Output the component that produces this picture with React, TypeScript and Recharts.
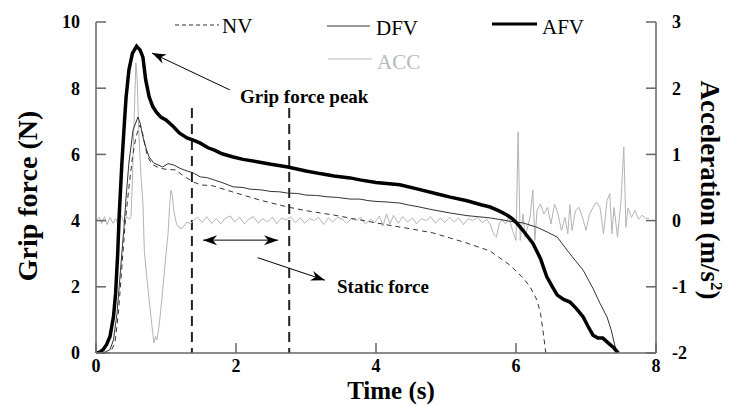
import { CartesianGrid, Line, LineChart, ReferenceLine, XAxis, YAxis } from "recharts";

// [time (s), force (N)]
const NV: [number, number][] = [
  [0, 0], [0.2, 0], [0.27, 0.3], [0.32, 1.2], [0.37, 2.6], [0.42, 4.0], [0.47, 5.0],
  [0.52, 5.9], [0.57, 6.53], [0.63, 6.89], [0.67, 6.6], [0.7, 6.25], [0.74, 5.92],
  [0.8, 5.7], [0.9, 5.59], [1.0, 5.55], [1.14, 5.53], [1.25, 5.35], [1.39, 5.17],
  [1.49, 5.08], [1.67, 5.05], [1.96, 4.86], [2.34, 4.62], [2.74, 4.41], [3.0, 4.3],
  [3.39, 4.17], [3.77, 4.02], [4.16, 3.87], [4.5, 3.75], [4.81, 3.63], [5.05, 3.48],
  [5.3, 3.32], [5.63, 3.08], [5.77, 2.87], [5.91, 2.66], [6.1, 2.27], [6.2, 2.0],
  [6.3, 1.6], [6.35, 1.2], [6.39, 0.6], [6.42, 0.09], [6.43, 0],
];

const DFV: [number, number][] = [
  [0, 0], [0.1, 0], [0.2, 0.1], [0.25, 0.4], [0.3, 1.2], [0.35, 2.5], [0.4, 3.8],
  [0.43, 4.71], [0.47, 5.74], [0.53, 6.74], [0.6, 7.13], [0.63, 6.95], [0.67, 6.53],
  [0.72, 6.15], [0.76, 5.92], [0.82, 5.75], [0.89, 5.68], [0.95, 5.62], [1.03, 5.72],
  [1.11, 5.68], [1.2, 5.58], [1.3, 5.5], [1.39, 5.44], [1.49, 5.32], [1.58, 5.3],
  [1.67, 5.24], [1.8, 5.15], [1.96, 5.02], [2.1, 5.0], [2.2, 4.95], [2.35, 4.93],
  [2.5, 4.88], [2.62, 4.87], [2.74, 4.83], [2.88, 4.82], [3.0, 4.77], [3.15, 4.76],
  [3.3, 4.72], [3.45, 4.7], [3.63, 4.65], [3.77, 4.65], [3.9, 4.6], [4.0, 4.58],
  [4.17, 4.56], [4.34, 4.53], [4.47, 4.47], [4.6, 4.42], [4.8, 4.33], [5.06, 4.23],
  [5.3, 4.15], [5.45, 4.12], [5.63, 4.08], [5.78, 4.03], [5.91, 3.98], [6.1, 3.93],
  [6.3, 3.8], [6.45, 3.65], [6.59, 3.5], [6.75, 3.05], [6.96, 2.5], [7.1, 1.95],
  [7.2, 1.5], [7.3, 1.09], [7.36, 0.7], [7.41, 0.24], [7.45, 0],
];

const AFV: [number, number][] = [
  [0, 0], [0.05, 0.02], [0.1, 0.1], [0.15, 0.25], [0.2, 0.5], [0.25, 1.1], [0.28, 1.8],
  [0.31, 3.0], [0.33, 4.1], [0.37, 5.74], [0.41, 7.1], [0.43, 7.73], [0.47, 8.55],
  [0.52, 9.05], [0.58, 9.27], [0.63, 9.15], [0.67, 8.94], [0.71, 8.25], [0.76, 7.73],
  [0.81, 7.45], [0.86, 7.28], [0.93, 7.12], [1.0, 7.04], [1.1, 6.85], [1.19, 6.65],
  [1.3, 6.5], [1.39, 6.43], [1.49, 6.34], [1.6, 6.2], [1.7, 6.12], [1.8, 6.02],
  [1.96, 5.92], [2.1, 5.85], [2.3, 5.78], [2.5, 5.7], [2.74, 5.62], [3.0, 5.5],
  [3.2, 5.42], [3.4, 5.35], [3.63, 5.29], [3.77, 5.23], [4.0, 5.15], [4.34, 5.08],
  [4.6, 4.95], [4.85, 4.82], [5.06, 4.71], [5.3, 4.6], [5.5, 4.48], [5.63, 4.41],
  [5.75, 4.3], [5.87, 4.17], [5.95, 4.05], [6.01, 3.93], [6.1, 3.7], [6.24, 3.32],
  [6.35, 2.85], [6.44, 2.3], [6.52, 2.0], [6.59, 1.75], [6.68, 1.62], [6.77, 1.54],
  [6.86, 1.35], [6.96, 1.09], [7.03, 0.8], [7.1, 0.54], [7.17, 0.45], [7.24, 0.45],
  [7.32, 0.3], [7.4, 0.15], [7.46, 0],
];

// [time (s), acceleration (m/s^2)]
const ACC: [number, number][] = [
  [0, 0], [0.05, 0.05], [0.08, -0.05], [0.12, 0.06], [0.16, -0.06], [0.2, 0.05],
  [0.24, -0.04], [0.28, 0.03], [0.32, -0.06], [0.36, 0.08], [0.4, -0.03], [0.44, 0.06],
  [0.48, 0.02], [0.5, 0.06], [0.52, 0.6], [0.54, 1.37], [0.57, 2.38], [0.59, 2.1],
  [0.61, 1.37], [0.64, 0.7], [0.67, 0.27], [0.69, -0.44], [0.72, -0.8], [0.76, -1.2],
  [0.8, -1.6], [0.83, -1.85], [0.85, -1.75], [0.87, -1.8], [0.9, -1.6], [0.93, -1.3],
  [0.97, -0.85], [1.0, -0.5], [1.03, -0.19], [1.05, 0.2], [1.07, 0.46], [1.09, 0.38],
  [1.11, 0.16], [1.15, -0.05], [1.2, -0.12], [1.24, -0.11], [1.3, -0.02], [1.35, -0.05],
  [1.39, 0], [1.45, 0.05], [1.52, -0.03], [1.58, 0.06], [1.65, -0.04], [1.72, 0.03],
  [1.78, -0.05], [1.85, 0.04], [1.92, 0.07], [1.98, -0.02], [2.05, 0.05], [2.12, -0.05],
  [2.18, 0.02], [2.25, 0.06], [2.32, -0.04], [2.38, 0.03], [2.45, -0.02], [2.52, 0.05],
  [2.58, -0.05], [2.65, 0.04], [2.72, 0.01], [2.78, 0.06], [2.85, -0.03], [2.92, 0.04],
  [2.98, -0.04], [3.05, 0.03], [3.12, 0], [3.18, 0.05], [3.25, -0.06], [3.32, 0.04],
  [3.38, -0.02], [3.45, 0.05], [3.52, 0.02], [3.58, -0.04], [3.65, 0.03], [3.72, 0],
  [3.78, 0.05], [3.85, -0.05], [3.92, 0.02], [3.98, -0.03], [4.05, 0.07], [4.1, -0.08],
  [4.15, 0.1], [4.2, -0.05], [4.25, 0.08], [4.32, -0.04], [4.38, 0.06], [4.45, -0.02],
  [4.52, 0.04], [4.58, -0.05], [4.65, 0.03], [4.72, 0], [4.78, 0.06], [4.85, -0.04],
  [4.92, 0.04], [4.98, -0.03], [5.05, 0.05], [5.12, -0.02], [5.18, 0.04], [5.25, -0.06],
  [5.32, 0.03], [5.38, 0], [5.45, 0.05], [5.52, -0.03], [5.58, 0.02], [5.63, -0.05],
  [5.68, -0.2], [5.72, -0.25], [5.76, -0.05], [5.8, 0.02], [5.85, -0.05], [5.9, 0.05],
  [5.95, -0.15], [6.0, -0.3], [6.03, 1.34], [6.06, -0.3], [6.1, 0.1], [6.13, -0.25],
  [6.2, 0.05], [6.24, 0.46], [6.27, -0.3], [6.3, 0.15], [6.35, 0.25], [6.4, 0.1],
  [6.45, 0.2], [6.5, -0.05], [6.55, 0.25], [6.6, 0.1], [6.65, -0.15], [6.7, 0.05],
  [6.74, -0.2], [6.77, 0.24], [6.8, -0.15], [6.85, 0.15], [6.9, 0.2], [6.95, 0.05],
  [7.0, -0.15], [7.05, 0.1], [7.1, 0.2], [7.15, 0.28], [7.2, 0.2], [7.25, -0.2],
  [7.3, 0.3], [7.34, 0.41], [7.37, -0.2], [7.4, 0.2], [7.45, -0.25], [7.5, 0.3],
  [7.54, 1.11], [7.57, -0.1], [7.6, 0.19], [7.65, 0.05], [7.7, 0.15], [7.75, 0.02],
  [7.8, 0.08], [7.85, 0.04], [7.9, 0.03],
];

const timeTicks = [0, 2, 4, 6, 8];
const forceTicks = [0, 2, 4, 6, 8, 10];
const accTicks = [-2, -1, 0, 1, 2, 3];

const toRows = (pts: [number, number][]) => pts.map(([t, v]) => ({ t, v }));

const FONT = "'Liberation Serif', 'Times New Roman', serif";
const AXIS = "#666";

const tickStyle = { fill: "#000", fontFamily: FONT, fontWeight: 700, fontSize: 18 };

function head(x: number, y: number, fx: number, fy: number) {
  // barbed arrowhead pointing at (x,y), coming from direction (fx,fy)
  const dx = x - fx;
  const dy = y - fy;
  const len = Math.hypot(dx, dy) || 1;
  const ux = dx / len;
  const uy = dy / len;
  const L = 14;
  const W = 5;
  const bx = x - ux * L;
  const by = y - uy * L;
  const nx = x - ux * L * 0.7;
  const ny = y - uy * L * 0.7;
  return `${x},${y} ${bx - uy * W},${by + ux * W} ${nx},${ny} ${bx + uy * W},${by - ux * W}`;
}

function arrowShape(both: boolean) {
  return (p: any) => {
    const { x1, y1, x2, y2 } = p;
    return (
      <g>
        <line x1={x1} y1={y1} x2={x2} y2={y2} stroke="#000" strokeWidth={1} />
        <polygon points={head(x2, y2, x1, y1)} fill="#000" />
        {both && <polygon points={head(x1, y1, x2, y2)} fill="#000" />}
      </g>
    );
  };
}

export default function App() {
  return (
    <div style={{ position: "absolute", left: 0, top: 0, width: 729, height: 405, background: "#fff" }}>
      <LineChart width={729} height={405} margin={{ top: 22, right: 23, bottom: 22, left: 36 }}>
        <CartesianGrid horizontal={false} vertical={false} />
        <XAxis
          dataKey="t"
          type="number"
          domain={[0, 8]}
          ticks={timeTicks}
          height={30}
          stroke={AXIS}
          strokeWidth={1.5}
          tickSize={-10}
          tickMargin={16}
          tick={tickStyle}
          allowDataOverflow
        />
        <YAxis
          yAxisId="left"
          domain={[0, 10]}
          ticks={forceTicks}
          width={60}
          stroke={AXIS}
          strokeWidth={1.5}
          tickSize={-10}
          tickMargin={26}
          tick={tickStyle}
          allowDataOverflow
        />
        <YAxis
          yAxisId="right"
          orientation="right"
          domain={[-2, 3]}
          ticks={accTicks}
          width={50}
          stroke={AXIS}
          strokeWidth={1.5}
          tickSize={-10}
          tickMargin={26}
          tick={tickStyle}
          allowDataOverflow
        />

        <ReferenceLine
          yAxisId="left"
          segment={[{ x: 1.37, y: 7.4 }, { x: 1.37, y: 0 }]}
          stroke="#222"
          strokeWidth={2}
          strokeDasharray="10 6"
        />
        <ReferenceLine
          yAxisId="left"
          segment={[{ x: 2.76, y: 7.4 }, { x: 2.76, y: 0 }]}
          stroke="#222"
          strokeWidth={2}
          strokeDasharray="10 6"
        />

        <Line
          yAxisId="right"
          data={toRows(ACC)}
          dataKey="v"
          stroke="#b4b4b4"
          strokeWidth={1}
          dot={false}
          isAnimationActive={false}
        />
        <Line
          yAxisId="left"
          data={toRows(NV)}
          dataKey="v"
          stroke="#333"
          strokeWidth={1}
          strokeDasharray="5 4"
          dot={false}
          isAnimationActive={false}
        />
        <Line
          yAxisId="left"
          data={toRows(DFV)}
          dataKey="v"
          stroke="#333"
          strokeWidth={1}
          dot={false}
          isAnimationActive={false}
        />
        <Line
          yAxisId="left"
          data={toRows(AFV)}
          dataKey="v"
          stroke="#000"
          strokeWidth={3.5}
          dot={false}
          isAnimationActive={false}
        />

        <ReferenceLine
          yAxisId="left"
          segment={[{ x: 1.91, y: 7.95 }, { x: 0.8, y: 9.06 }]}
          shape={arrowShape(false)}
        />
        <ReferenceLine
          yAxisId="left"
          segment={[{ x: 1.53, y: 3.41 }, { x: 2.6, y: 3.41 }]}
          shape={arrowShape(true)}
        />
        <ReferenceLine
          yAxisId="left"
          segment={[{ x: 2.31, y: 2.88 }, { x: 3.27, y: 2.2 }]}
          shape={arrowShape(false)}
        />
      </LineChart>

      <svg
        width={729}
        height={405}
        style={{ position: "absolute", left: 0, top: 0, pointerEvents: "none" }}
        fontFamily={FONT}
      >
        {/* legend */}
        <line x1={175} x2={219} y1={25} y2={25} stroke="#333" strokeDasharray="4 3" />
        <text x={222} y={33} fontSize={21}>NV</text>
        <line x1={327} x2={370} y1={26} y2={26} stroke="#333" />
        <text x={376} y={35} fontSize={21}>DFV</text>
        <line x1={492} x2={537} y1={24} y2={24} stroke="#000" strokeWidth={3} />
        <text x={542} y={34} fontSize={21}>AFV</text>
        <line x1={328} x2={372} y1={59} y2={59} stroke="#bbb" />
        <text x={377} y={69} fontSize={21} fill="#b5bcb5">ACC</text>

        {/* annotations */}
        <text x={240} y={103} fontSize={19} fontWeight={700}>Grip force peak</text>
        <text x={337} y={293} fontSize={19} fontWeight={700}>Static force</text>

        {/* axis titles */}
        <text transform="translate(37,196) rotate(-90)" textAnchor="middle" fontSize={28} fontWeight={700}>
          Grip force (N)
        </text>
        <text transform="translate(701,190) rotate(90)" textAnchor="middle" fontSize={27} fontWeight={700}>
          Acceleration (m/s<tspan dy={-10} fontSize={17}>2</tspan><tspan dy={10}>)</tspan>
        </text>
        <text x={391} y={399} textAnchor="middle" fontSize={25} fontWeight={700}>
          Time (s)
        </text>
      </svg>
    </div>
  );
}
